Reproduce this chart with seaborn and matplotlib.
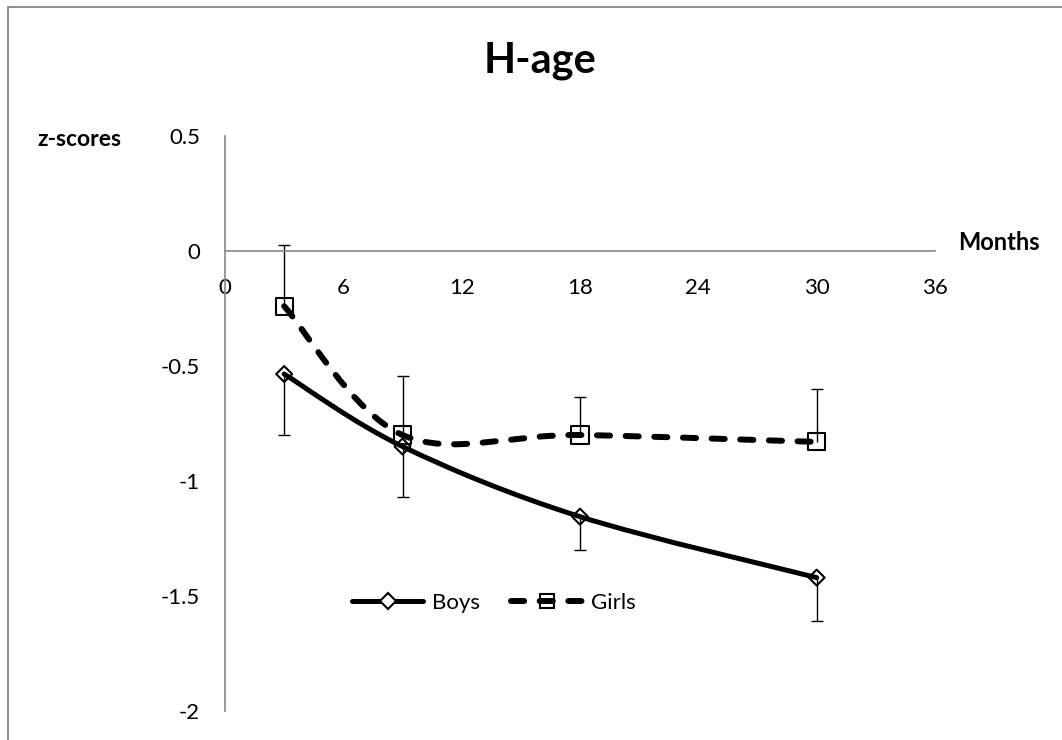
import numpy as np
import seaborn as sns
import matplotlib
matplotlib.use("Agg")
import matplotlib.pyplot as plt
from matplotlib.path import Path
from matplotlib.patches import PathPatch
from matplotlib.lines import Line2D

# ---------------- data ----------------
months = [3, 9, 18, 30]
boys = [-0.535, -0.85, -1.155, -1.42]
girls = [-0.24, -0.80, -0.80, -0.83]
boys_err_down = [0.265, 0.22, 0.145, 0.19]
girls_err_up = [0.265, 0.255, 0.165, 0.23]

x_ticks = [0, 6, 12, 18, 24, 30, 36]
y_ticks = [-2, -1.5, -1, -0.5, 0, 0.5]
y_tick_labels = ["-2", "-1.5", "-1", "-0.5", "0", "0.5"]

GRID_GREY = "#868686"
W, H = 1062, 740


def smooth_path(xs, ys):
    """Excel-like smoothed line: cubic Bezier segments through the points."""
    pts = np.column_stack([xs, ys]).astype(float)
    n = len(pts)
    verts = [pts[0]]
    codes = [Path.MOVETO]
    for i in range(n - 1):
        p_prev = pts[max(i - 1, 0)]
        p_next2 = pts[min(i + 2, n - 1)]
        c1 = pts[i] + (pts[i + 1] - p_prev) / 6
        c2 = pts[i + 1] - (p_next2 - pts[i]) / 6
        verts += [c1, c2, pts[i + 1]]
        codes += [Path.CURVE4] * 3
    return Path(verts, codes)


def one_sided_errorbar(ax, x, y, err, up):
    zeros = [0] * len(err)
    yerr = [zeros, err] if up else [err, zeros]
    eb = ax.errorbar(x, y, yerr=yerr, fmt="none", ecolor="black",
                     elinewidth=1.0, capsize=4.3, capthick=1.0, zorder=2)
    # hide the caps sitting on the markers themselves
    for cap in eb[1]:
        if np.allclose(cap.get_ydata(), y):
            cap.set_visible(False)


sns.set_style("white")
plt.rcParams["font.family"] = ["Lato", "DejaVu Sans"]
plt.rcParams["text.color"] = "black"

fig = plt.figure(figsize=(W / 100, H / 100), dpi=100)
ax = fig.add_axes([225 / W, 1 - 711 / H, 710 / W, (711 - 136) / H])

# smoothed lines
ax.add_patch(PathPatch(smooth_path(months, boys), fill=False, ec="black",
                       lw=3.6, capstyle="round", joinstyle="round", zorder=3))
ax.add_patch(PathPatch(smooth_path(months, girls), fill=False, ec="black",
                       lw=4.3, linestyle=(0, (2.2, 2.6)), capstyle="round",
                       joinstyle="round", zorder=3))

# error bars (boys downwards, girls upwards)
one_sided_errorbar(ax, months, boys, boys_err_down, up=False)
one_sided_errorbar(ax, months, girls, girls_err_up, up=True)

# hollow markers
sns.scatterplot(x=months, y=boys, marker="D", s=66, facecolor="none",
                edgecolor="black", linewidth=1.5, ax=ax, zorder=4)
sns.scatterplot(x=months, y=girls, marker="s", s=150, facecolor="none",
                edgecolor="black", linewidth=1.5, ax=ax, zorder=4)

# axes crossing at zero, Excel style
ax.set_xlim(0, 36)
ax.set_ylim(-2, 0.5)
ax.spines["top"].set_visible(False)
ax.spines["right"].set_visible(False)
ax.spines["bottom"].set_position(("data", 0))
for side in ["left", "bottom"]:
    ax.spines[side].set_color(GRID_GREY)
    ax.spines[side].set_linewidth(1.2)

ax.set_xticks(x_ticks)
ax.set_xticklabels([str(t) for t in x_ticks])
ax.set_yticks(y_ticks)
ax.set_yticklabels(y_tick_labels)
ax.tick_params(axis="x", direction="inout", length=11.5, width=1.2,
               color=GRID_GREY, pad=13.5, labelsize=16, labelcolor="black")
ax.tick_params(axis="y", length=0, pad=18, labelsize=16, labelcolor="black")
ax.set_xlabel("")
ax.set_ylabel("")

# legend
handles = [
    Line2D([], [], color="black", lw=3.6, marker="D", ms=8.5, mfc="white",
           mec="black", mew=1.5, label="Boys"),
    Line2D([], [], color="black", lw=4.3, linestyle=(0, (2.2, 2.6)),
           dash_capstyle="round", marker="s", ms=10, mfc="none", mec="black",
           mew=1.5, label="Girls"),
]
ax.legend(handles=handles, loc="center", bbox_to_anchor=(494 / W, 1 - 603 / H),
          bbox_transform=fig.transFigure, frameon=False, ncol=2, fontsize=16,
          handlelength=3.2, columnspacing=1.4, handletextpad=0.4)

# texts
fig.text(540 / W, 1 - 73 / H, "H-age", ha="center", va="baseline",
         fontsize=30, fontweight="bold", color="black")
fig.text(37 / W, 1 - 140 / H, "z-scores", ha="left", va="center",
         fontsize=16.5, fontweight="bold", color="black")
fig.text(958 / W, 1 - 242 / H, "Months", ha="left", va="center",
         fontsize=17, fontweight="bold", color="black")

# chart-area border (only left and top visible in the crop)
fig.add_artist(Line2D([7.5 / W, 7.5 / W], [0, 1 - 7 / H], transform=fig.transFigure,
                      color=GRID_GREY, lw=1.3))
fig.add_artist(Line2D([7.5 / W, 1], [1 - 7 / H, 1 - 7 / H], transform=fig.transFigure,
                      color=GRID_GREY, lw=1.3))

fig.savefig("out.png", dpi=100)
